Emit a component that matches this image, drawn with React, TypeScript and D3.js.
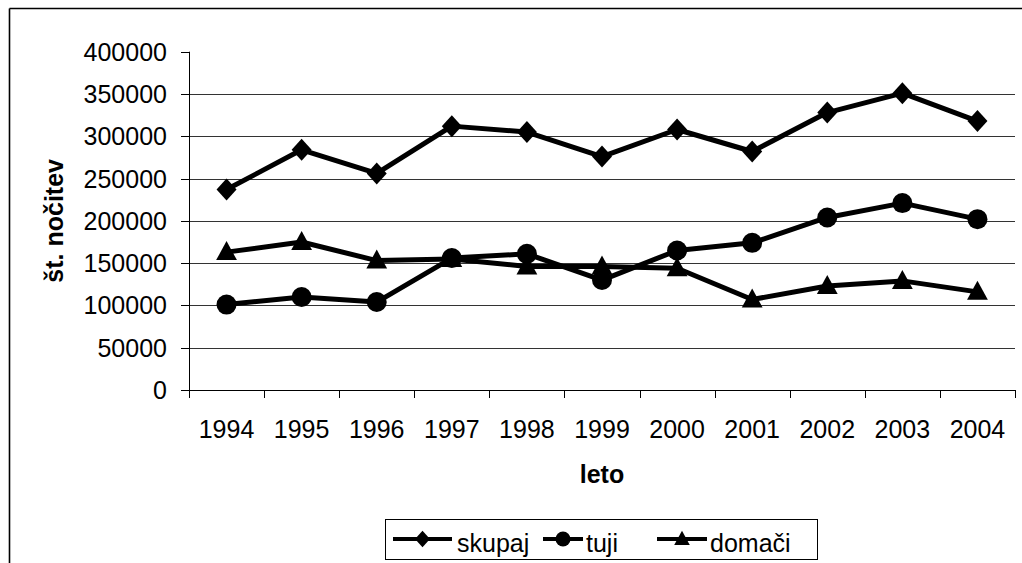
import React from "react";
import * as d3 from "d3";

const years = ["1994", "1995", "1996", "1997", "1998", "1999", "2000", "2001", "2002", "2003", "2004"];
const skupaj = [237000, 284000, 256000, 312000, 305000, 276000, 308000, 282000, 328000, 351000, 318000];
const tuji = [101000, 110000, 104000, 156000, 161000, 130000, 165000, 174000, 204000, 221000, 202000];
const domaci = [163000, 175000, 153000, 155000, 146000, 146000, 144000, 107000, 123000, 129000, 116000];
const yTicks = [0, 50000, 100000, 150000, 200000, 250000, 300000, 350000, 400000];
const seriesNames = ["skupaj", "tuji", "domači"];
const markerTypes = ["diamond", "circle", "triangle"];

const W = 1022;
const H = 563;
const PL = 189, PR = 1015, PT = 51.7, PB = 390;
const FONT = "'Liberation Sans', Arial, sans-serif";

function Marker({ type, x, y, s }: { type: string; x: number; y: number; s: number }) {
  if (type === "diamond") {
    const w = s * 0.5, h = s * 0.55;
    return <path d={`M${x},${y - h}L${x + w},${y}L${x},${y + h}L${x - w},${y}Z`} fill="#000" />;
  }
  if (type === "circle") return <circle cx={x} cy={y} r={s * 0.5} fill="#000" />;
  const h = s * 0.95;
  return <path d={`M${x},${y - h * 0.58}L${x + s * 0.52},${y + h * 0.42}L${x - s * 0.52},${y + h * 0.42}Z`} fill="#000" />;
}

export default function App() {
  const x = d3.scaleBand<string>().domain(years).range([PL, PR]).padding(0);
  const y = d3.scaleLinear().domain([0, 400000]).range([PB, PT]);
  const cx = (yr: string) => (x(yr) as number) + x.bandwidth() / 2;
  const line = d3.line<number>().x((_, i) => cx(years[i])).y((d) => y(d));
  const allSeries = [skupaj, tuji, domaci];
  const boundaries = years.map((yr) => x(yr) as number).concat([PR]);

  const legendItems = [
    { x0: 393, x1: 452, tx: 457 },
    { x0: 543, x1: 583, tx: 586 },
    { x0: 657, x1: 707, tx: 710 },
  ];

  return (
    <svg width={W} height={H} style={{ position: "absolute", left: 0, top: 0, fontFamily: FONT }}>
      <rect x={0} y={0} width={W} height={H} fill="#fff" />
      <line x1={9.5} y1={8.5} x2={W} y2={8.5} stroke="#000" strokeWidth={1.6} />
      <line x1={9.5} y1={8.5} x2={9.5} y2={H} stroke="#000" strokeWidth={1.6} />

      {yTicks.map((t) => (
        <g key={t}>
          {t > 0 && t < 400000 && (
            <line x1={PL} x2={PR} y1={Math.round(y(t)) + 0.5} y2={Math.round(y(t)) + 0.5} stroke="#333" strokeWidth={1} />
          )}
          <line x1={181} x2={PL} y1={Math.round(y(t)) + 0.5} y2={Math.round(y(t)) + 0.5} stroke="#000" strokeWidth={1} />
          <text x={167} y={y(t)} dy="0.36em" textAnchor="end" fontSize={25} fill="#000">
            {t}
          </text>
        </g>
      ))}
      <line x1={PL + 0.5} x2={PL + 0.5} y1={PT} y2={PB + 8} stroke="#000" strokeWidth={1} />
      <line x1={PL} x2={PR} y1={Math.round(PB) + 0.5} y2={Math.round(PB) + 0.5} stroke="#000" strokeWidth={1} />
      {boundaries.map((b, i) => (
        <line key={i} x1={Math.round(b) + 0.5} x2={Math.round(b) + 0.5} y1={PB} y2={PB + 8} stroke="#000" strokeWidth={1} />
      ))}
      {years.map((yr) => (
        <text key={yr} x={cx(yr)} y={438} textAnchor="middle" fontSize={25} fill="#000">
          {yr}
        </text>
      ))}
      <text x={(PL + PR) / 2} y={483} textAnchor="middle" fontSize={25} fontWeight="bold" fill="#000">
        leto
      </text>
      <text
        transform={`translate(63, ${(PT + PB) / 2}) rotate(-90)`}
        textAnchor="middle"
        fontSize={25}
        fontWeight="bold"
        fill="#000"
      >
        št. nočitev
      </text>

      {allSeries.map((s, si) => (
        <g key={si}>
          <path d={line(s) || ""} fill="none" stroke="#000" strokeWidth={5} strokeLinejoin="round" />
          {s.map((v, i) => (
            <Marker key={i} type={markerTypes[si]} x={cx(years[i])} y={y(v)} s={20} />
          ))}
        </g>
      ))}

      <rect x={385.5} y={519.5} width={432} height={40} fill="#fff" stroke="#000" strokeWidth={1} />
      {legendItems.map((it, i) => (
        <g key={i}>
          <line x1={it.x0} x2={it.x1} y1={539} y2={539} stroke="#000" strokeWidth={4} />
          <Marker type={markerTypes[i]} x={(it.x0 + it.x1) / 2} y={539} s={15} />
          <text x={it.tx} y={552} fontSize={25} fill="#000">
            {seriesNames[i]}
          </text>
        </g>
      ))}
    </svg>
  );
}
